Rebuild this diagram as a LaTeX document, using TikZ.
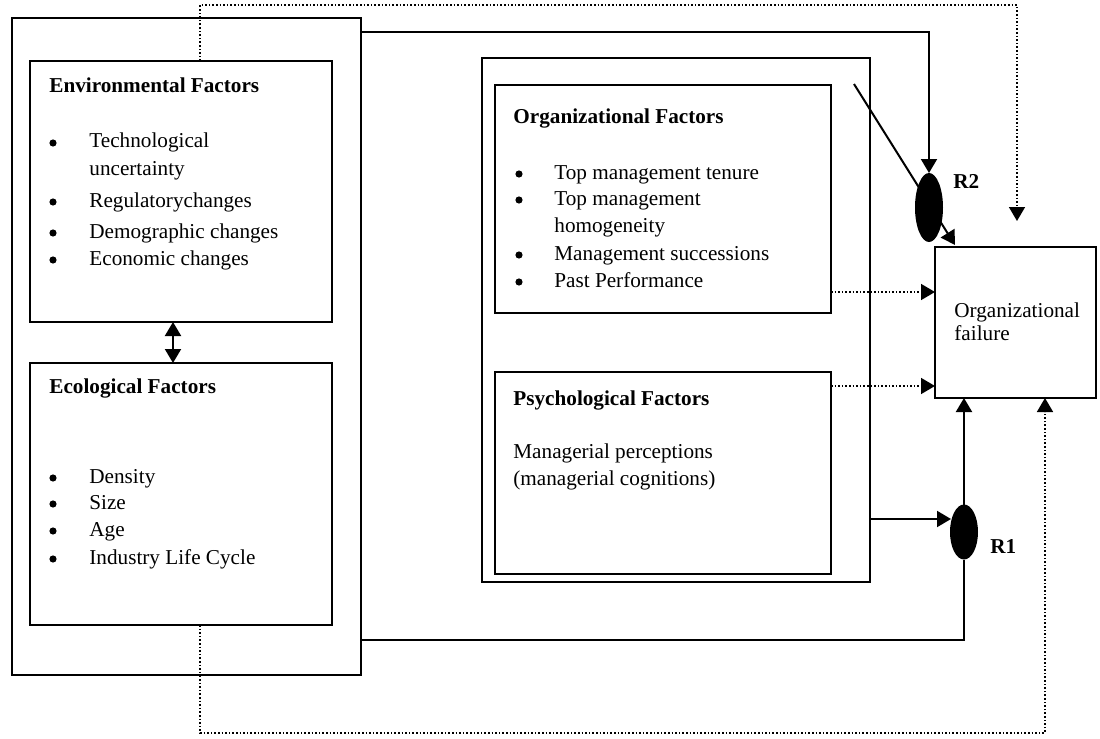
\documentclass[tikz,border=0pt]{standalone}
\usepackage{fontspec}
\setmainfont{Liberation Serif}
\usetikzlibrary{arrows.meta,shapes.geometric}
\tikzset{
  box/.style={draw, line width=1pt, inner sep=0pt, outer sep=0pt},
  txt/.style={anchor=base west, inner sep=0pt, font=\fontsize{10.6}{13}\selectfont},
  head/.style={txt, font=\fontsize{10.6}{13}\selectfont\bfseries},
  dot/.style={circle, fill=black, inner sep=0pt, minimum size=3.6pt},
  link/.style={line width=1pt, -{Triangle[length=7pt,width=8pt]}},
  dotlink/.style={link, line width=0.8pt, densely dotted},
  regul/.style={ellipse, fill=black, inner sep=0pt, outer sep=0pt, minimum width=14pt},
}
\begin{document}
\begin{tikzpicture}[x=0.5pt,y=-0.5pt]
  \useasboundingbox (0,0) rectangle (1100,739);
  % boxes
  \node[box, minimum width=174.5pt, minimum height=328.5pt] (outer) at (186.5,346.5) {};
  \node[box, minimum width=151pt, minimum height=130.5pt] (env) at (181,191.5) {};
  \node[box, minimum width=151pt, minimum height=131pt] (eco) at (181,494) {};
  \node[box, minimum width=194pt, minimum height=262pt] (mid) at (676,320) {};
  \node[box, minimum width=168pt, minimum height=114pt] (org) at (663,199) {};
  \node[box, minimum width=168pt, minimum height=101pt] (psy) at (663,473) {};
  \node[box, minimum width=80.5pt, minimum height=75.5pt] (fail) at (1015.5,322.5) {};
  % environmental factors
  \node[head] (envt) at (49,92) {Environmental Factors};
  \foreach \y/\t [count=\i] in {148/Technological, 175/uncertainty, 207/Regulatorychanges,
      238/Demographic changes, 265/Economic changes}
    \node[txt] (env-\i) at (89,\y) {\t};
  \foreach \y [count=\i] in {148,207,238,265}
    \node[dot] (envb-\i) at (53,\y-5) {};
  % ecological factors
  \node[head] (ecot) at (49,393) {Ecological Factors};
  \foreach \y/\t [count=\i] in {483/Density, 509/Size, 536/Age, 564/Industry Life Cycle}
    \node[txt] (eco-\i) at (89,\y) {\t};
  \foreach \y [count=\i] in {483,509,536,564}
    \node[dot] (ecob-\i) at (53,\y-5) {};
  % organizational factors
  \node[head] (orgt) at (513,123) {Organizational Factors};
  \foreach \y/\t [count=\i] in {179/Top management tenure, 205/Top management,
      232/homogeneity, 260/Management successions, 287/Past Performance}
    \node[txt] (org-\i) at (554,\y) {\t};
  \foreach \y [count=\i] in {179,205,260,287}
    \node[dot] (orgb-\i) at (519,\y-5) {};
  % psychological factors
  \node[head] (psyt) at (513,405) {Psychological Factors};
  \node[txt] (psy-1) at (513,458) {Managerial perceptions};
  \node[txt] (psy-2) at (513,485) {(managerial cognitions)};
  % outcome
  \node[txt] (fail-1) at (954,317) {Organizational};
  \node[txt] (fail-2) at (954,340) {failure};
  % diagonal into R2 (under the ellipse)
  \coordinate (dg) at (854,84);
  \coordinate (dgtip) at (955,245);
  \draw[link] (dg) -- (dgtip);
  % regulators
  \node[regul, minimum height=34.5pt] (R2) at (929,207.5) {};
  \node[regul, minimum height=27.5pt] (R1) at (964,532) {};
  \node[head] (R2l) at (953,188) {R2};
  \node[head] (R1l) at (990,553) {R1};
  % connectors
  \draw[line width=1pt, {Triangle[length=7pt,width=8pt]}-{Triangle[length=7pt,width=8pt]}]
    ([xshift=-4pt]env.south) -- ([xshift=-4pt]eco.north);
  \coordinate (top) at (0,32);
  \draw[link] (outer.east |- top) -| (R2.north);
  \coordinate (tl) at (200,5);
  \coordinate (tr) at (1017,5);
  \coordinate (trtip) at (1017,221);
  \draw[dotlink] (tl |- env.north) -- (tl) -- (tr) -- (trtip);
  \coordinate (o1) at (0,292);
  \draw[dotlink] (org.east |- o1) -- (fail.west |- o1);
  \coordinate (p1) at (0,386);
  \draw[dotlink] (psy.east |- p1) -- (fail.west |- p1);
  \coordinate (m1) at (951,519);
  \draw[link] (mid.east |- m1) -- (m1);
  \draw[link] (R1.north) -- (R1.north |- fail.south);
  \coordinate (b1) at (0,640);
  \draw[line width=1pt] (outer.east |- b1) -| (R1.south);
  \coordinate (bl) at (200,733);
  \coordinate (br) at (1045,733);
  \draw[dotlink] (bl |- eco.south) -- (bl) -- (br) -- (br |- fail.south);
\end{tikzpicture}
\end{document}
